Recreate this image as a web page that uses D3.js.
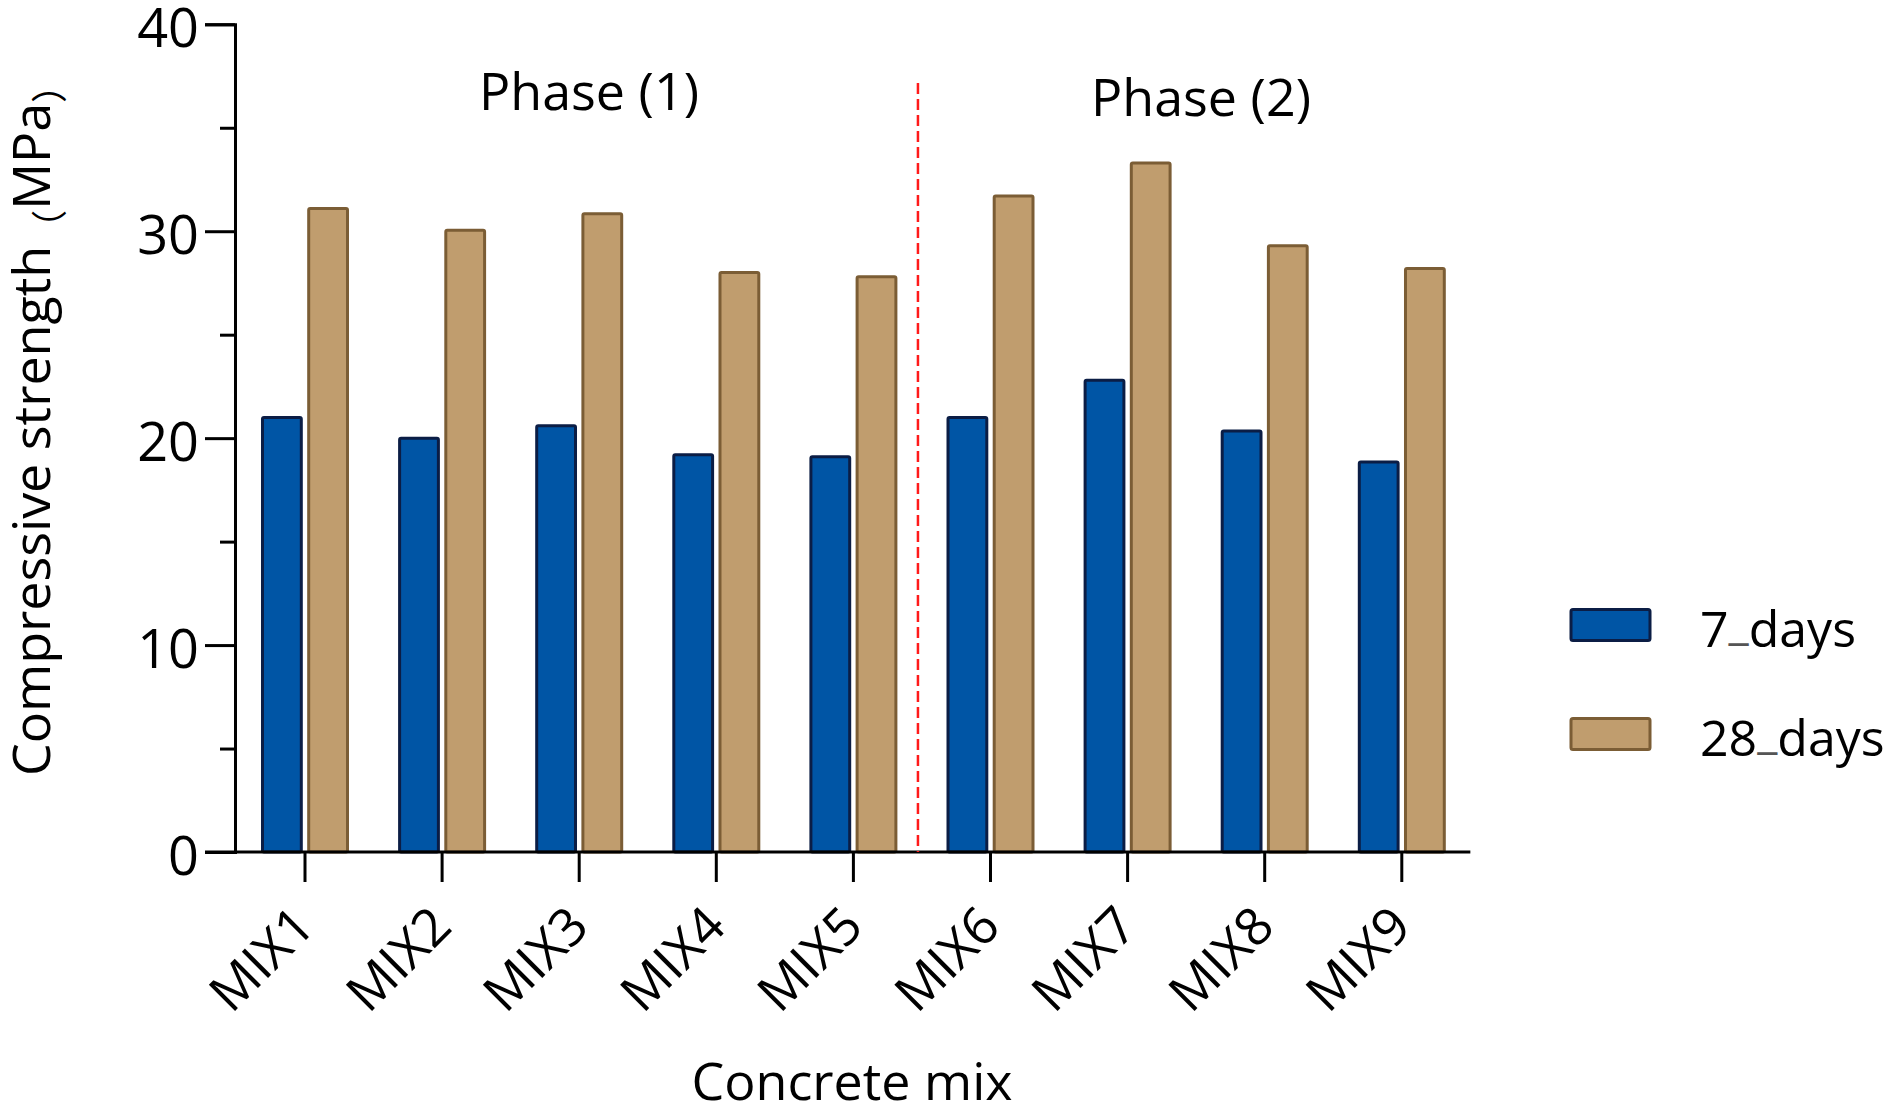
<!DOCTYPE html>
<html>
<head>
<meta charset="utf-8">
<script src="https://cdn.jsdelivr.net/npm/d3@7/dist/d3.min.js"></script>
<style>
  html, body { margin: 0; padding: 0; background: #ffffff; }
  svg { display: block; }
  text { font-family: "Open Sans", "Noto Sans", sans-serif; fill: #000; }
</style>
</head>
<body>
<svg id="chart" width="1901" height="1114"></svg>
<script>
// ---- data ----
const categories = ["MIX1", "MIX2", "MIX3", "MIX4", "MIX5", "MIX6", "MIX7", "MIX8", "MIX9"];
const seriesNames = ["7_days", "28_days"];
const days7 = [21.0, 20.0, 20.6, 19.2, 19.1, 21.0, 22.8, 20.35, 18.85];
const days28 = [31.1, 30.05, 30.85, 28.0, 27.8, 31.7, 33.3, 29.3, 28.2];
const majorTicks = [0, 10, 20, 30, 40];
const minorTicks = [5, 15, 25, 35];
const phaseLabels = ["Phase (1)", "Phase (2)"];
const yTitle = ["Compressive strength", "（", "MPa", "）"];
const xTitle = "Concrete mix";

const fills = ["#0055A5", "#C09D6E"];
const strokes = ["#0B1D45", "#7B5D35"];

const svg = d3.select("#chart");
svg.append("rect").attr("width", 1901).attr("height", 1114).attr("fill", "#fff");

const y = d3.scaleLinear().domain([0, 40]).range([852, 24.3]);
const x = d3.scaleBand().domain(categories).range([236.45, 1470.35]).padding(0);
const xs = d3.scaleBand().domain(seriesNames)
  .range([x.bandwidth() / 2 - 42.5, x.bandwidth() / 2 + 42.5]).paddingInner(0.16);

const axisX = 235;

// ---- bars ----
const rows = categories.map((c, i) => ({ cat: c, vals: [days7[i], days28[i]] }));
const groups = svg.append("g").selectAll("g").data(rows).join("g")
  .attr("transform", d => `translate(${x(d.cat)},0)`);
groups.selectAll("rect").data(d => d.vals.map((v, k) => ({ v, k })))
  .join("rect")
  .attr("x", d => xs(seriesNames[d.k]))
  .attr("width", xs.bandwidth())
  .attr("y", d => y(d.v))
  .attr("height", d => y(0) - y(d.v))
  .attr("rx", 1.5)
  .attr("fill", d => fills[d.k])
  .attr("stroke", d => strokes[d.k])
  .attr("stroke-width", 3);

// ---- y axis ----
const gyMinor = svg.append("g").attr("transform", `translate(${axisX},0)`)
  .call(d3.axisLeft(y).tickValues(minorTicks).tickSize(15).tickSizeOuter(0).tickFormat(""));
gyMinor.select(".domain").remove();
gyMinor.selectAll("line").attr("stroke", "#000").attr("stroke-width", 3);

const gy = svg.append("g").attr("transform", `translate(${axisX},0)`)
  .call(d3.axisLeft(y).tickValues(majorTicks).tickSize(30).tickSizeOuter(30).tickPadding(6).tickFormat(d3.format("d")));
gy.select(".domain").attr("stroke", "#000").attr("stroke-width", 3).attr("fill", "none");
gy.selectAll("line").attr("stroke", "#000").attr("stroke-width", 3);
gy.selectAll("text")
  .attr("font-family", "'Open Sans', sans-serif")
  .attr("font-size", 54)
  .attr("dy", null)
  .attr("y", 22);

// ---- x axis ----
const gx = svg.append("g").attr("transform", `translate(0,${y(0)})`)
  .call(d3.axisBottom(x).tickSize(30).tickSizeOuter(0).tickFormat(""));
gx.select(".domain").remove();
gx.selectAll("line").attr("stroke", "#000").attr("stroke-width", 3);
svg.append("line")
  .attr("x1", axisX - 30).attr("x2", x.range()[1])
  .attr("y1", y(0)).attr("y2", y(0))
  .attr("stroke", "#000").attr("stroke-width", 3);

// rotated category labels
svg.append("g").selectAll("text").data(categories).join("text")
  .attr("transform", d => `translate(${x(d) + x.bandwidth() / 2 + 12},${y(0) + 77}) rotate(-45)`)
  .attr("text-anchor", "end")
  .attr("font-size", 52)
  .text(d => d);

// ---- divider ----
svg.append("line")
  .attr("x1", x("MIX6") - 4).attr("x2", x("MIX6") - 4)
  .attr("y1", 83).attr("y2", y(0))
  .attr("stroke", "#FF1A1A").attr("stroke-width", 2.5)
  .attr("stroke-dasharray", "11,5");

// ---- phase labels ----
const phaseX = [589, 1201];
const phaseY = [110, 116];
svg.append("g").selectAll("text").data(phaseLabels).join("text")
  .attr("x", (d, i) => phaseX[i]).attr("y", (d, i) => phaseY[i])
  .attr("text-anchor", "middle")
  .attr("font-size", 52)
  .text(d => d);

// ---- axis titles ----
const yt = svg.append("text")
  .attr("transform", "translate(50,776) rotate(-90)")
  .attr("text-anchor", "start")
  .attr("font-size", 52);
yt.append("tspan").text(yTitle[0]);
yt.append("tspan").attr("font-family", "'Noto Sans CJK SC', sans-serif").attr("font-size", 36).attr("dy", 13).text(yTitle[1]);
yt.append("tspan").attr("dy", -13).text(yTitle[2]);
yt.append("tspan").attr("font-family", "'Noto Sans CJK SC', sans-serif").attr("font-size", 36).attr("dy", 13).text(yTitle[3]);

svg.append("text")
  .attr("x", 852).attr("y", 1100)
  .attr("text-anchor", "middle")
  .attr("font-size", 52)
  .text(xTitle);

// ---- legend ----
const legY = [608, 717];
const leg = svg.append("g").selectAll("g").data(seriesNames).join("g");
leg.append("rect")
  .attr("x", 1571).attr("y", (d, i) => legY[i] + 1.5)
  .attr("width", 79).attr("height", 31).attr("rx", 2)
  .attr("fill", (d, i) => fills[i]).attr("stroke", (d, i) => strokes[i]).attr("stroke-width", 3);
const lt = leg.append("text")
  .attr("x", 1700).attr("y", (d, i) => legY[i] + 39)
  .attr("font-size", 50);
lt.append("tspan").text(d => d.split("_")[0]);
lt.append("tspan").attr("font-size", 46).attr("dy", -8).attr("fill", "#555").text("_");
lt.append("tspan").attr("dy", 8).text(d => d.split("_")[1]);
</script>
</body>
</html>
